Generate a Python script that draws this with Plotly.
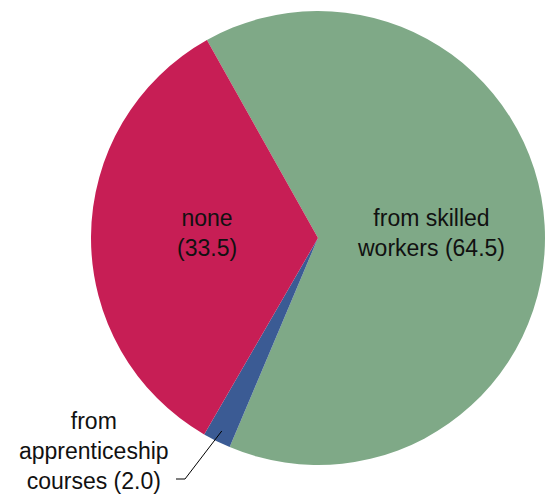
import math
import plotly.graph_objects as go

labels = ["from skilled workers", "from apprenticeship courses", "none"]
values = [64.5, 2.0, 33.5]
colors = ["#7FA987", "#3B5B94", "#C71E55"]

W, H = 546, 494
cx, cy, R = 318, 238, 227
rotation = -29.3

fig = go.Figure(go.Pie(
    labels=labels, values=values, sort=False, direction="clockwise",
    rotation=rotation, marker=dict(colors=colors, line=dict(width=0)),
    textinfo="none", hoverinfo="label+value", showlegend=False,
    domain=dict(x=[(cx - R) / W, (cx + R) / W], y=[(H - cy - R) / H, (H - cy + R) / H]),
))

font = dict(family="Liberation Sans, Arial, sans-serif", size=23, color="#111111")

def px(x, y):
    return x / W, 1 - y / H

annots = [
    ("none<br>(33.5)", 207, 233),
    ("from skilled<br>workers (64.5)", 431, 233),
    ("from<br>apprenticeship<br>courses (2.0)", 94, 451),
]
for text, x, y in annots:
    ax, ay = px(x, y)
    fig.add_annotation(text=text, x=ax, y=ay, xref="paper", yref="paper",
                       showarrow=False, font=font, align="center",
                       xanchor="center", yanchor="middle")

# leader line for small slice
total = sum(values)
mid = rotation + 360 * (values[0] + values[1] / 2) / total
r0 = 0.95 * R
sx = cx + math.sin(math.radians(mid)) * r0
sy = cy - math.cos(math.radians(mid)) * r0
pts = [(sx, sy), (185, 479), (176, 479)]
for (x0, y0), (x1, y1) in zip(pts[:-1], pts[1:]):
    a0, b0 = px(x0, y0)
    a1, b1 = px(x1, y1)
    fig.add_shape(type="line", x0=a0, y0=b0, x1=a1, y1=b1, xref="paper", yref="paper",
                  line=dict(color="#000000", width=1))

fig.update_layout(width=W, height=H, margin=dict(l=0, r=0, t=0, b=0),
                  paper_bgcolor="white", plot_bgcolor="white")
fig.write_html("out.html")
